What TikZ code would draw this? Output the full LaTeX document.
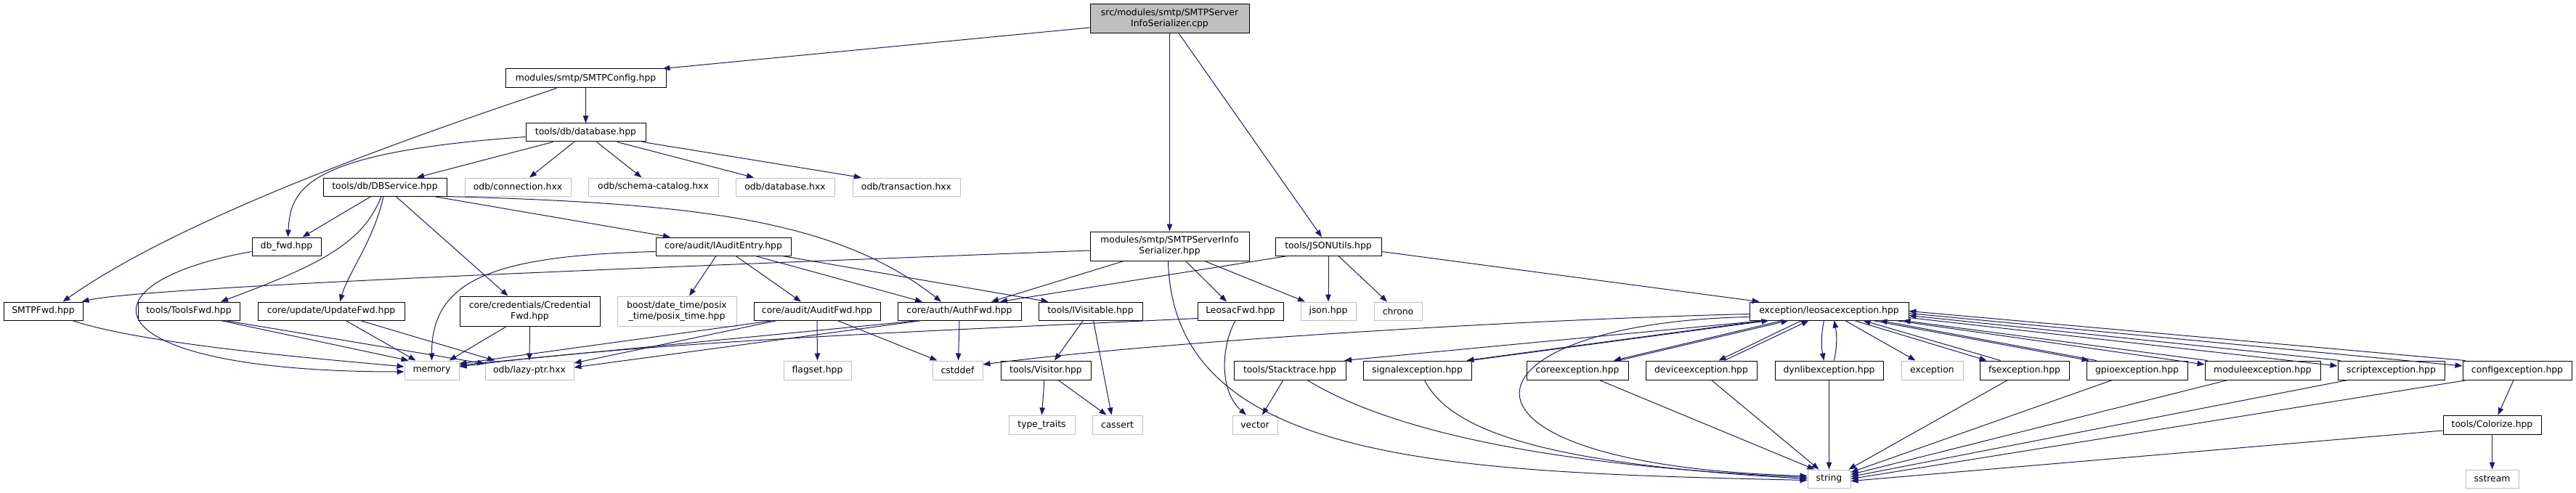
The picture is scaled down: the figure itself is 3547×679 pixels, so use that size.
\documentclass[tikz,border=0pt]{standalone}
\usepackage{fontspec}
\setmainfont{DejaVu Sans}
\usetikzlibrary{arrows.meta}
\definecolor{mblue}{HTML}{191970}
\definecolor{lgray}{HTML}{BFBFBF}
\tikzset{
 nbox/.style={draw=black, line width=1.0pt, fill=white, inner sep=0pt, font=\fontsize{12.4}{15}\selectfont, align=center},
 gbox/.style={nbox, draw=lgray},
 rbox/.style={nbox, fill=lgray},
 dep/.style={draw=mblue, line width=1.0pt, -{Triangle[length=10pt,width=7.5pt]}},
}
\begin{document}
\begin{tikzpicture}[x=1pt,y=-1pt]
\useasboundingbox (0,0) rectangle (3547,679);
% row 0
\node[rbox,minimum width=219pt,minimum height=40pt] (root) at (1610.5,26) {src/modules/smtp/SMTPServer\\InfoSerializer.cpp};
% row 1
\node[nbox,minimum width=221pt,minimum height=26pt] (cfg) at (806.5,108) {modules/smtp/SMTPConfig.hpp};
% row 2
\node[nbox,minimum width=165pt,minimum height=25pt] (db) at (806.5,182.5) {tools/db/database.hpp};
% row 3
\node[nbox,minimum width=170pt,minimum height=25pt] (dbs) at (530,257.5) {tools/db/DBService.hpp};
\node[gbox,minimum width=146pt,minimum height=25pt] (conn) at (713,257.5) {odb/connection.hxx};
\node[gbox,minimum width=179pt,minimum height=25pt] (schema) at (899.5,257.5) {odb/schema-catalog.hxx};
\node[gbox,minimum width=136pt,minimum height=25pt] (odbdb) at (1081,257.5) {odb/database.hxx};
\node[gbox,minimum width=148pt,minimum height=25pt] (trans) at (1248,257.5) {odb/transaction.hxx};
% row 4
\node[nbox,minimum width=219pt,minimum height=40pt] (ser) at (1610.5,339) {modules/smtp/SMTPServerInfo\\Serializer.hpp};
\node[nbox,minimum width=146pt,minimum height=25pt] (jsu) at (1829,339.5) {tools/JSONUtils.hpp};
\node[nbox,minimum width=95pt,minimum height=25pt] (dbfwd) at (394.5,339.5) {db\_fwd.hpp};
\node[nbox,minimum width=186pt,minimum height=25pt] (iae) at (996,339.5) {core/audit/IAuditEntry.hpp};
% row 5
\node[nbox,minimum width=109pt,minimum height=25pt] (smtpfwd) at (59.5,428.5) {SMTPFwd.hpp};
\node[nbox,minimum width=140pt,minimum height=25pt] (toolsfwd) at (260,428.5) {tools/ToolsFwd.hpp};
\node[nbox,minimum width=202pt,minimum height=25pt] (updfwd) at (456,428.5) {core/update/UpdateFwd.hpp};
\node[nbox,minimum width=193pt,minimum height=41pt] (cred) at (729.5,428.5) {core/credentials/Credential\\Fwd.hpp};
\node[gbox,minimum width=164pt,minimum height=41pt] (boost) at (932,428.5) {boost/date\_time/posix\\\_time/posix\_time.hpp};
\node[nbox,minimum width=174pt,minimum height=25pt] (auditfwd) at (1125,428.5) {core/audit/AuditFwd.hpp};
\node[nbox,minimum width=170pt,minimum height=25pt] (authfwd) at (1321,428.5) {core/auth/AuthFwd.hpp};
\node[nbox,minimum width=143pt,minimum height=25pt] (ivis) at (1501.5,428.5) {tools/IVisitable.hpp};
\node[nbox,minimum width=118pt,minimum height=25pt] (leofwd) at (1708,428.5) {LeosacFwd.hpp};
\node[gbox,minimum width=76pt,minimum height=25pt] (jsonh) at (1829,428.5) {json.hpp};
\node[gbox,minimum width=66pt,minimum height=25pt] (chrono) at (1925,428.5) {chrono};
\node[nbox,minimum width=219pt,minimum height=25pt] (lexc) at (2518.5,428.5) {exception/leosacexception.hpp};
% row 6
\node[gbox,minimum width=75pt,minimum height=26pt] (memory) at (594.5,510) {memory};
\node[gbox,minimum width=122pt,minimum height=26pt] (lazy) at (729,510) {odb/lazy-ptr.hxx};
\node[gbox,minimum width=93pt,minimum height=26pt] (flagset) at (1125.5,510) {flagset.hpp};
\node[gbox,minimum width=69pt,minimum height=26pt] (cstddef) at (1318.5,510) {cstddef};
\node[nbox,minimum width=124pt,minimum height=26pt] (visitor) at (1440,510) {tools/Visitor.hpp};
\node[nbox,minimum width=154pt,minimum height=26pt] (stack) at (1776,510) {tools/Stacktrace.hpp};
\node[nbox,minimum width=149pt,minimum height=26pt] (signal) at (1951.5,510) {signalexception.hpp};
\node[nbox,minimum width=140pt,minimum height=26pt] (core) at (2172,510) {coreexception.hpp};
\node[nbox,minimum width=153pt,minimum height=26pt] (device) at (2342.5,510) {deviceexception.hpp};
\node[nbox,minimum width=149pt,minimum height=26pt] (dynlib) at (2518.5,510) {dynlibexception.hpp};
\node[gbox,minimum width=85pt,minimum height=26pt] (exc) at (2660.5,510) {exception};
\node[nbox,minimum width=123pt,minimum height=26pt] (fs) at (2787.5,510) {fsexception.hpp};
\node[nbox,minimum width=139pt,minimum height=26pt] (gpio) at (2942.5,510) {gpioexception.hpp};
\node[nbox,minimum width=159pt,minimum height=26pt] (module) at (3115.5,510) {moduleexception.hpp};
\node[nbox,minimum width=147pt,minimum height=26pt] (script) at (3292.5,510) {scriptexception.hpp};
\node[nbox,minimum width=150pt,minimum height=26pt] (config) at (3466,510) {configexception.hpp};
% row 7
\node[gbox,minimum width=91pt,minimum height=26pt] (ttraits) at (1434.5,585) {type\_traits};
\node[gbox,minimum width=69pt,minimum height=26pt] (cassert) at (1538.5,585) {cassert};
\node[gbox,minimum width=62pt,minimum height=26pt] (vector) at (1728,585) {vector};
\node[nbox,minimum width=135pt,minimum height=26pt] (colorize) at (3431.5,585) {tools/Colorize.hpp};
% row 8
\node[gbox,minimum width=59pt,minimum height=25pt] (string) at (2518.5,659.5) {string};
\node[gbox,minimum width=73pt,minimum height=25pt] (sstream) at (3431.5,659.5) {sstream};

% ---- edges ----
% root
\draw[dep] ([yshift=-12pt]root.west) -- ([xshift=-5pt]cfg.north east);
\draw[dep] (root.south) -- (ser.north);
\draw[dep] ([xshift=13pt]root.south) -- ([xshift=-9pt]jsu.north);
% cfg
\draw[dep] (cfg.south) -- (db.north);
\draw[dep] ([xshift=-40pt]cfg.south) .. controls (560,190) and (250,300) .. ([xshift=27pt]smtpfwd.north);
% db
\draw[dep] ([xshift=-45pt]db.south) -- ([xshift=44pt]dbs.north);
\draw[dep] ([xshift=-16pt]db.south) -- ([xshift=16pt]conn.north);
\draw[dep] ([xshift=15pt]db.south) -- ([xshift=-16pt]schema.north);
\draw[dep] ([xshift=43pt]db.south) -- ([xshift=-43pt]odbdb.north);
\draw[dep] ([xshift=-5pt]db.south east) -- ([xshift=-62pt]trans.north);
\draw[dep] ([yshift=-6pt]db.west) .. controls (420,210) and (400,260) .. ([xshift=2pt]dbfwd.north);
% dbs
\draw[dep] ([xshift=-19pt]dbs.south) -- ([xshift=22pt]dbfwd.north);
\draw[dep] ([xshift=-5pt]dbs.south) .. controls (500,335) and (440,365) .. ([xshift=44pt]toolsfwd.north);
\draw[dep] ([xshift=-2pt]dbs.south) .. controls (515,330) and (480,375) .. ([xshift=12pt]updfwd.north);
\draw[dep] ([xshift=15pt]dbs.south) -- ([xshift=-30pt]cred.north);
\draw[dep] ([xshift=67pt]dbs.south) -- ([xshift=-73pt]iae.north);
\draw[dep] (dbs.south east) .. controls (950,280) and (1150,300) .. ([xshift=-25pt]authfwd.north);
% ser
\draw[dep] ([yshift=-6pt]ser.west) .. controls (900,368) and (200,395) .. ([xshift=-2pt]smtpfwd.north east);
\draw[dep] ([xshift=-63pt]ser.south) -- ([xshift=44pt]authfwd.north);
\draw[dep] ([xshift=22pt]ser.south) -- ([xshift=-19pt]leofwd.north);
\draw[dep] ([xshift=48pt]ser.south) -- ([xshift=-32pt]jsonh.north);
\draw[dep] ([xshift=-2pt]ser.south) .. controls (1615,640) and (2000,650) .. ([yshift=-2pt]string.west);
% jsu
\draw[dep] ([xshift=-56pt]jsu.south) -- ([xshift=56pt]authfwd.north);
\draw[dep] (jsu.south) -- (jsonh.north);
\draw[dep] ([xshift=14pt]jsu.south) -- ([xshift=-15pt]chrono.north);
\draw[dep] ([yshift=-7pt]jsu.east) -- ([xshift=-96pt]lexc.north);
% iae
\draw[dep] ([xshift=-10pt]iae.south) -- ([xshift=17pt]boost.north);
\draw[dep] ([xshift=17pt]iae.south) -- ([xshift=-22pt]auditfwd.north);
\draw[dep] ([xshift=44pt]iae.south) -- ([xshift=-51pt]authfwd.north);
\draw[dep] ([xshift=81pt]iae.south) -- ([xshift=-58pt]ivis.north);
\draw[dep] ([yshift=-7pt]iae.west) .. controls (680,352) and (594,385) .. (memory.north);
% dbfwd, smtpfwd
\draw[dep] ([yshift=-7pt]dbfwd.west) .. controls (100,390) and (120,512) .. ([yshift=-2pt]memory.west);
\draw[dep] ([xshift=40pt]smtpfwd.south) .. controls (200,475) and (450,495) .. ([yshift=5pt]memory.west);
% toolsfwd, updfwd, cred
\draw[dep] ([xshift=44pt]toolsfwd.south) -- ([xshift=-32pt]memory.north);
\draw[dep] ([xshift=50pt]toolsfwd.south) -- ([yshift=9pt]lazy.west);
\draw[dep] ([xshift=20pt]updfwd.south) -- ([xshift=-22pt]memory.north);
\draw[dep] ([xshift=40pt]updfwd.south) -- ([xshift=-48pt]lazy.north);
\draw[dep] ([xshift=-32pt]cred.south) -- ([xshift=24pt]memory.north);
\draw[dep] (cred.south) -- (lazy.north);
% auditfwd
\draw[dep] ([xshift=-60pt]auditfwd.south) -- ([yshift=9pt]memory.east);
\draw[dep] ([xshift=-55pt]auditfwd.south) -- ([yshift=10pt]lazy.east);
\draw[dep] (auditfwd.south) -- (flagset.north);
\draw[dep] ([xshift=28pt]auditfwd.south) -- ([xshift=-28pt]cstddef.north);
% authfwd
\draw[dep] ([xshift=-55pt]authfwd.south) -- ([yshift=7pt]memory.east);
\draw[dep] ([xshift=-52pt]authfwd.south) -- ([yshift=4pt]lazy.east);
\draw[dep] (authfwd.south) -- ([xshift=1pt]cstddef.north);
% leofwd
\draw[dep] ([yshift=-10pt]leofwd.west) .. controls (1300,455) and (900,470) .. ([yshift=5pt]memory.east);
\draw[dep] ([xshift=-7pt]leofwd.south) .. controls (1680,480) and (1680,540) .. ([xshift=-12pt]vector.north);
% ivis, visitor, stack
\draw[dep] ([xshift=-10pt]ivis.south) -- ([xshift=12pt]visitor.north);
\draw[dep] ([xshift=4pt]ivis.south) -- ([xshift=-8pt]cassert.north);
\draw[dep] ([xshift=-2pt]visitor.south) -- (ttraits.north);
\draw[dep] ([xshift=17pt]visitor.south) -- ([xshift=-15pt]cassert.north);
\draw[dep] ([xshift=-9pt]stack.south) -- ([xshift=10pt]vector.north);
\draw[dep] ([xshift=24pt]stack.south) .. controls (1900,585) and (2100,640) .. ([yshift=2pt]string.west);
% lexc
\draw[dep] ([yshift=-4pt]lexc.west) .. controls (2100,440) and (1600,470) .. ([yshift=8pt]cstddef.east);
\draw[dep] ([xshift=-88pt]lexc.south) -- ([xshift=75pt]stack.north);
\draw[dep] ([yshift=-8pt]lexc.west) .. controls (2000,445) and (1950,640) .. ([yshift=4pt]string.west);
\draw[dep] ([xshift=-90pt]lexc.south) -- ([xshift=68pt]signal.north);
\draw[dep] ([xshift=73pt]signal.north) -- ([xshift=-83pt]lexc.south);
\draw[dep] ([xshift=-64pt]lexc.south) -- ([xshift=50pt]core.north);
\draw[dep] ([xshift=57pt]core.north) -- ([xshift=-56pt]lexc.south);
\draw[dep] ([xshift=-38pt]lexc.south) -- ([xshift=24pt]device.north);
\draw[dep] ([xshift=32pt]device.north) -- ([xshift=-28pt]lexc.south);
\draw[dep] ([xshift=-7pt]lexc.south) .. controls +(-4,20) and +(-4,-20) .. ([xshift=-7pt]dynlib.north);
\draw[dep] ([xshift=7pt]dynlib.north) .. controls +(4,-20) and +(4,20) .. ([xshift=7pt]lexc.south);
\draw[dep] ([xshift=22pt]lexc.south) -- ([xshift=-23pt]exc.north);
\draw[dep] ([xshift=35pt]lexc.south) -- ([xshift=-52pt]fs.north);
\draw[dep] ([xshift=-33pt]fs.north) -- ([xshift=47pt]lexc.south);
\draw[dep] ([xshift=60pt]lexc.south) -- ([xshift=-66pt]gpio.north);
\draw[dep] ([xshift=-56pt]gpio.north) -- ([xshift=70pt]lexc.south);
\draw[dep] ([xshift=-18pt]lexc.south east) -- ([yshift=8pt]module.west);
\draw[dep] ([xshift=4pt]module.north west) -- ([xshift=-8pt]lexc.south east);
\draw[dep] ([yshift=-9pt]lexc.east) -- ([yshift=6pt]script.west);
\draw[dep] ([xshift=4pt]script.north west) -- ([yshift=-6pt]lexc.east);
\draw[dep] ([yshift=-3pt]lexc.east) -- ([yshift=6pt]config.west);
\draw[dep] ([xshift=4pt]config.north west) -- (lexc.east);
% exceptions -> string
\draw[dep] ([xshift=10pt]signal.south) .. controls (2000,600) and (2150,640) .. (string.west);
\draw[dep] ([xshift=30pt]core.south) -- ([xshift=-20pt]string.north);
\draw[dep] ([xshift=14pt]device.south) -- ([xshift=-14pt]string.north);
\draw[dep] (dynlib.south) -- (string.north);
\draw[dep] ([xshift=-23pt]fs.south) -- ([xshift=-3pt]string.north east);
\draw[dep] ([xshift=-34pt]gpio.south) -- ([yshift=9pt]string.east);
\draw[dep] ([xshift=-48pt]module.south) -- ([yshift=6pt]string.east);
\draw[dep] ([xshift=-60pt]script.south) -- ([yshift=3pt]string.east);
\draw[dep] ([xshift=-69pt]config.south) -- (string.east);
\draw[dep] ([yshift=-8pt]colorize.west) -- ([yshift=-3pt]string.east);
\draw[dep] ([xshift=-5pt]config.south) -- ([xshift=8pt]colorize.north);
\draw[dep] (colorize.south) -- (sstream.north);
\end{tikzpicture}
\end{document}
